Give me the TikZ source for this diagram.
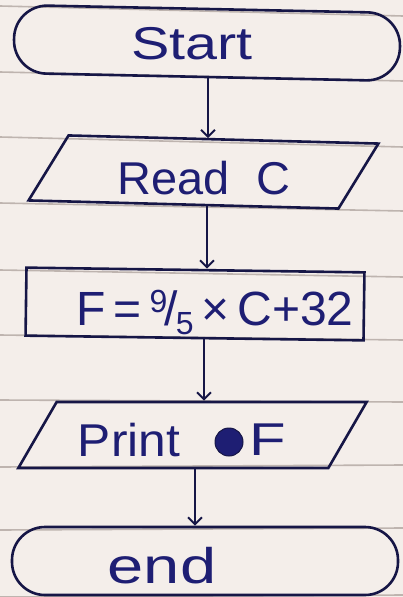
\documentclass[tikz,border=0pt]{standalone}
\usepackage{fontspec}
\setmainfont{Liberation Sans}
\usetikzlibrary{arrows.meta}
\definecolor{ink}{RGB}{22,22,70}
\definecolor{pen}{RGB}{30,30,115}
\definecolor{paper}{RGB}{244,238,234}
\definecolor{ruleline}{RGB}{190,180,175}
\begin{document}
\begin{tikzpicture}[x=1pt,y=-1pt,
  box/.style={draw=ink, line width=2.6pt, inner sep=0pt},
  term/.style={box, rectangle, rounded corners=33pt, minimum width=386pt, minimum height=68pt},
  io/.style={box, rectangle, transform shape, minimum width=310pt, minimum height=66pt},
  proc/.style={box, rectangle, minimum width=338pt, minimum height=68pt},
  arr/.style={draw=ink, line width=2pt, -{Straight Barb[length=7pt,width=14pt,line width=2pt]}},
  hand/.style={text=pen, inner sep=0pt, font=\fontsize{46}{46}\selectfont},
  ruled/.style={draw=ruleline, line width=1.6pt}
]
\fill[paper] (0,0) rectangle (403,597);
\useasboundingbox (0,0) rectangle (403,597);
% ruled paper lines
\foreach \a/\b in {6/16,72/81,137/147,203/211,270/277,335/340,400/402,467/465,530/528,597/595}
  \draw[ruled] (0,\a) -- (403,\b);

% shapes
\node[term, rotate=-1.2] (start) at (207,43) {};
\begin{scope}[shift={(203.5,172)}, rotate=-1.5, xslant=0.58]
  \node[io] (read) at (0,0) {};
\end{scope}
\node[proc, rotate=-0.8] (calc) at (195,304) {};
\begin{scope}[shift={(192.5,435)}, xslant=0.58]
  \node[io] (print) at (0,0) {};
\end{scope}
\node[term] (end) at (205,561) {};

% texts
\node[hand] (starttxt) at (192,44) {\scalebox{1.25}[1]{Start}};
\node[hand] (readtxt) at (204,178) {\scalebox{1.02}[1]{Read\ \ C}};
\node[hand] (calctxt) at (215,312) {\fontsize{48}{48}\selectfont F\,=\,\raisebox{13pt}{\fontsize{32}{32}\selectfont 9}\kern-3pt/\kern-2pt\raisebox{-9pt}{\fontsize{32}{32}\selectfont 5}\,×\,C+32};
\node[hand] (printtxt) at (129,440) {\scalebox{1.08}[1]{Print}};
\node[circle, fill=pen, draw=ink, line width=1pt, minimum size=28pt, inner sep=0pt] (blob) at (229,442) {};
\node[hand] (ftxt) at (268,440) {\scalebox{1.3}[1]{F}};
\node[hand] (endtxt) at (162,566) {\fontsize{50}{50}\selectfont\scalebox{1.3}[1]{end}};

% connectors
\draw[arr] (start.south -| 208,0) -- (read.north -| 208,0);
\draw[arr] (read.south -| 207,0) -- (calc.north -| 207,0);
\draw[arr] (calc.south -| 204,0) -- (print.north -| 204,0);
\draw[arr] (print.south -| 195,0) -- (end.north -| 195,0);
\end{tikzpicture}
\end{document}
